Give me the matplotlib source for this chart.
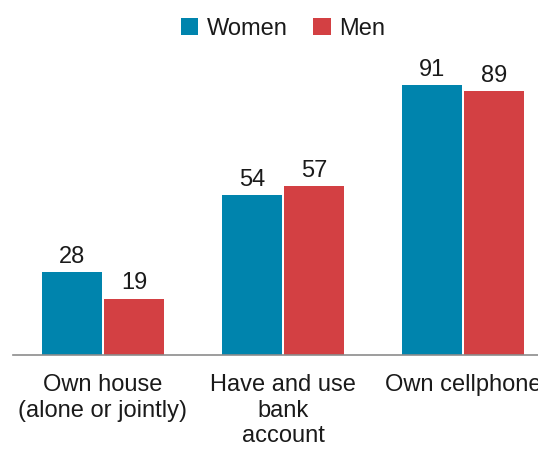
import matplotlib
matplotlib.use("Agg")
import matplotlib.pyplot as plt
import numpy as np

categories = ["Own house\n(alone or jointly)", "Have and use\nbank\naccount", "Own cellphone"]
women = [28, 54, 91]
men = [19, 57, 89]
series_names = ["Women", "Men"]

plt.rcParams['font.family'] = ['Liberation Sans', 'DejaVu Sans']
FS = 17

fig = plt.figure(figsize=(5.38, 4.5), dpi=100)
ax = fig.add_axes([13/538, 95/450, 540/538, 296.7/450])

x = np.arange(len(categories))
w = 0.33
off = 0.172
c_w = "#0084AD"
c_m = "#D34043"
b1 = ax.bar(x - off, women, w, color=c_w, label=series_names[0])
b2 = ax.bar(x + off, men, w, color=c_m, label=series_names[1])

for bars in (b1, b2):
    for r in bars:
        ax.annotate(f"{int(r.get_height())}", (r.get_x() + r.get_width()/2, r.get_height()),
                    xytext=(0, 3), textcoords="offset points", ha="center", va="bottom",
                    fontsize=FS, color="#1a1a1a")

ax.set_xlim(-0.5, 2.5)
ax.set_ylim(0, 100)
ax.set_xticks(x)
ax.set_xticklabels(categories, fontsize=FS, color="#1a1a1a", linespacing=1.2, va="top")
ax.tick_params(axis="x", length=0, pad=14)
ax.set_yticks([])
for s in ["top", "right", "left"]:
    ax.spines[s].set_visible(False)
ax.spines["bottom"].set_color("#8c8c8c")
ax.spines["bottom"].set_linewidth(1.2)

leg = fig.legend(handles=[b1, b2], labels=series_names, loc="center", bbox_to_anchor=(283/538, 1 - 29/450),
                 ncol=2, frameon=False, fontsize=FS, handlelength=0.75, handleheight=0.75,
                 handletextpad=0.35, columnspacing=1.1)
for t in leg.get_texts():
    t.set_color("#1a1a1a")

fig.savefig("out.png", dpi=100)
